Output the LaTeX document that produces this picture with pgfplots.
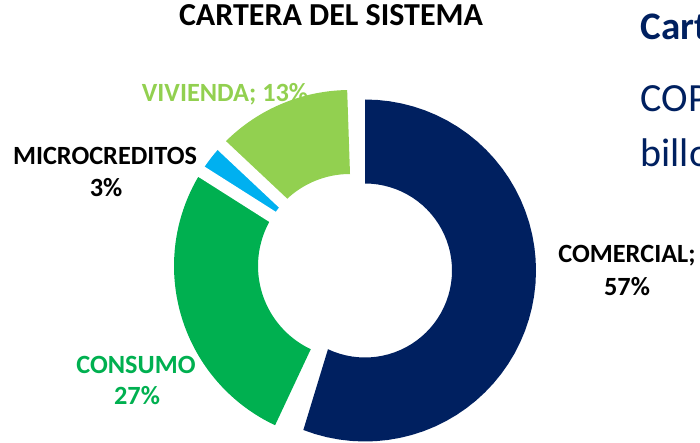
\documentclass[border=0pt]{standalone}
\usepackage{fontspec}
\setmainfont{Carlito}
\usepackage{pgfplots}
\usepackage{pgfplotstable}
\pgfplotsset{compat=1.18}
\definecolor{cNavy}{HTML}{002060}
\definecolor{cGreen}{HTML}{00B050}
\definecolor{cCyan}{HTML}{00B0F0}
\definecolor{cLight}{HTML}{92D050}
\tikzset{lab/.style={anchor=base, font=\fontsize{26.3}{31}\selectfont\bfseries}}

\pgfplotstableread{
cat pct
Comercial 57
Consumo 27
Microcreditos 3
Vivienda 13
}\carteratable

\begin{document}
\begin{tikzpicture}
\pgfplotstablegetelem{0}{pct}\of\carteratable \let\pA\pgfplotsretval
\pgfplotstablegetelem{1}{pct}\of\carteratable \let\pB\pgfplotsretval
\pgfplotstablegetelem{2}{pct}\of\carteratable \let\pC\pgfplotsretval
\pgfplotstablegetelem{3}{pct}\of\carteratable \let\pD\pgfplotsretval
\pgfmathsetmacro\aA{90}
\pgfmathsetmacro\aB{\aA-3.6*\pA}
\pgfmathsetmacro\aC{\aB-3.6*\pB}
\pgfmathsetmacro\aD{\aC-3.6*\pC}
\pgfmathsetmacro\aE{\aD-3.6*\pD}
\begin{axis}[
  at={(0,0)}, anchor=south west,
  scale only axis, width=700pt, height=442pt,
  xmin=0, xmax=700, ymin=0, ymax=442,
  hide axis, clip=false,
  declare function={
    ringrad(\s,\p,\q)=(\s<=1)*(\p)+(\s>1)*(\q);
    ringang(\s,\p,\q)=(\s<=1)*((\p)+((\q)-(\p))*\s)+(\s>1)*((\q)+((\p)-(\q))*(\s-1));
  },
  ring/.style={draw=none, mark=none, variable=\t,
    samples at={0,0.02,...,1,1.00001,1.02,...,2}},
  gapline/.style={draw=white, line width=12pt, mark=none, variable=\t,
    domain=84:184, samples=2},
]
\node[lab, text=cLight] at (axis cs:225,340) {VIVIENDA; 13\%};
% Comercial (exploded)
\addplot[ring, fill=cNavy] ({365+ringrad(\t,171,87)*cos(ringang(\t,\aA,\aB))},{171.5+ringrad(\t,171,87)*sin(ringang(\t,\aA,\aB))});
% Consumo
\addplot[ring, fill=cGreen] ({350+ringrad(\t,176,92)*cos(ringang(\t,\aB,\aC))},{176+ringrad(\t,176,92)*sin(ringang(\t,\aB,\aC))});
% Microcreditos
\addplot[ring, fill=cCyan] ({350+ringrad(\t,176,92)*cos(ringang(\t,\aC,\aD))},{176+ringrad(\t,176,92)*sin(ringang(\t,\aC,\aD))});
% Vivienda
\addplot[ring, fill=cLight] ({350+ringrad(\t,176,92)*cos(ringang(\t,\aD,\aE))},{176+ringrad(\t,176,92)*sin(ringang(\t,\aD,\aE))});
% white gaps around Microcreditos
\addplot[gapline] ({350+\t*cos(\aC)},{176+\t*sin(\aC)});
\addplot[gapline] ({350+\t*cos(\aD)},{176+\t*sin(\aD)});

\node[anchor=base, font=\fontsize{32}{38}\selectfont\bfseries] at (axis cs:331,416) {CARTERA DEL SISTEMA};
\node[lab] at (axis cs:105,277) {MICROCREDITOS};
\node[lab] at (axis cs:106,245) {3\%};
\node[lab, text=cGreen] at (axis cs:136,69) {CONSUMO};
\node[lab, text=cGreen] at (axis cs:137,38) {27\%};
\node[lab] at (axis cs:627,180) {COMERCIAL;};
\node[lab] at (axis cs:627,147) {57\%};
\node[anchor=base west, text=cNavy, font=\fontsize{39}{44}\selectfont\bfseries] at (axis cs:637,402) {Cartera};
\node[anchor=base west, text=cNavy, font=\fontsize{40}{46}\selectfont] at (axis cs:637,330) {COP};
\node[anchor=base west, text=cNavy, font=\fontsize{40}{46}\selectfont] at (axis cs:637,275) {billones};
\end{axis}
\pgfresetboundingbox
\path[use as bounding box] (0,0) rectangle (700pt,442pt);
\end{tikzpicture}
\end{document}
